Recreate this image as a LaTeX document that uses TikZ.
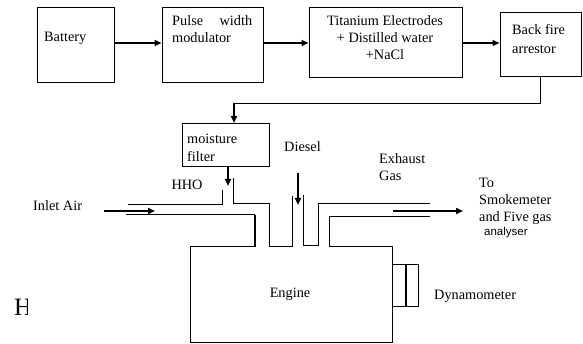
\documentclass[tikz,border=0pt]{standalone}
\usepackage{fontspec}
\setmainfont{Liberation Serif}
\newfontfamily\sansf{Liberation Sans}
\usetikzlibrary{arrows.meta}
\begin{document}
\begin{tikzpicture}[x=1pt,y=-1pt,
  blk/.style={draw,line width=1pt,inner sep=0pt},
  lbl/.style={font=\fontsize{14.3}{17}\selectfont,inner sep=0pt,align=left},
  arr/.style={line width=1.8pt,-{Triangle[length=7pt,width=6pt]}},
  thinline/.style={line width=0.9pt},
  pipe/.style={line width=0.9pt}]
\useasboundingbox (0,0) rectangle (583,344);
% boxes
\node[blk,minimum width=77pt,minimum height=75pt] (bat) at (75.5,45.5) {};
\node[blk,minimum width=101pt,minimum height=75pt] (pwm) at (212.5,45.5) {};
\node[blk,minimum width=153pt,minimum height=70pt] (ti) at (385.5,43) {};
\node[blk,minimum width=81pt,minimum height=64pt] (bf) at (540.5,45) {};
\node[blk,minimum width=87pt,minimum height=43pt] (mf) at (225.5,145) {};
% box texts
\node[lbl,anchor=west] (batt) at (44,38) {Battery};
\node[lbl,anchor=west] (pwmt1) at (172,21) {\makebox[80pt]{Pulse\hfill width}};
\node[lbl,anchor=west] (pwmt2) at (172,38) {modulator};
\node[lbl,align=center] (tit) at (385,38) {Titanium Electrodes\\+ Distilled water\\+NaCl};
\node[lbl,anchor=west,font=\fontsize{14.3}{19.5}\selectfont] (bft) at (512,39) {Back fire\\arrestor};
\node[lbl,anchor=west,font=\fontsize{14.3}{18}\selectfont] (mft) at (187,148) {moisture\\filter};
% top arrows
\draw[arr] ([yshift=2.5pt]bat.east) -- ([yshift=2.5pt]pwm.west);
\draw[arr] (pwm.east |- ti.west) -- (ti.west);
\draw[arr] (ti.east) -- (bf.west |- ti.east);
\coordinate (turn) at (234,103);
\draw[thinline] (bf.south) |- (turn);
\draw[arr] (turn) -- (turn |- mf.north);
\coordinate (hhoend) at (228,186);
\draw[arr] ([xshift=2.5pt]mf.south) -- (hhoend);
% pipes
\draw[pipe] (128,204) -- (222,204) -- (222,190);
\draw[pipe] (233,178) -- (233,203) -- (269,203) -- (269,246) -- (292,246) -- (292,196);
\draw[pipe] (303,195) -- (303,245) -- (318,245) -- (318,203) -- (430,203);
\draw[line width=1pt] (126,215) -- (255,215);
\draw[line width=1.8pt] (255,215) -- (255,246.5);
% engine
\draw[pipe] (256,246) -- (190,246) -- (190,342) -- (392,342) -- (392,246) -- (329,246) -- (329,216) -- (430,216);
% dynamometer
\draw[pipe] (392,264) rectangle (418,306);
\draw[line width=1.3pt] (406,264) -- (406,306);
% flow arrows
\coordinate (ia1) at (104,211);
\coordinate (ia2) at (155,211);
\draw[arr] (ia1) -- (ia2);
\coordinate (d1) at (298,173);
\coordinate (d2) at (298,205);
\draw[arr] (d1) -- (d2);
\coordinate (e1) at (393,211);
\coordinate (e2) at (463,211);
\draw[arr] (e1) -- (e2);
% labels
\node[lbl] (hho) at (187,185) {HHO};
\node[lbl,anchor=west] (inlet) at (33,206) {Inlet Air};
\node[lbl,anchor=west] (diesel) at (284,147) {Diesel};
\node[lbl,anchor=west] (exh) at (379,167) {Exhaust\\Gas};
\node[lbl,anchor=west] (to) at (479,201) {To\\Smokemeter\\and Five gas};
\node[inner sep=0pt,anchor=west,font=\sansf\fontsize{11.5}{13}\selectfont] (an) at (484,233) {analyser};
\node[lbl] (eng) at (290,294) {Engine};
\node[lbl,anchor=west] (dyn) at (434,296) {Dynamometer};
\begin{scope}
\clip (10,290) rectangle (27,320);
\node[inner sep=0pt,anchor=west,font=\fontsize{25}{25}\selectfont] (hcut) at (14,307) {H};
\end{scope}
\end{tikzpicture}
\end{document}
